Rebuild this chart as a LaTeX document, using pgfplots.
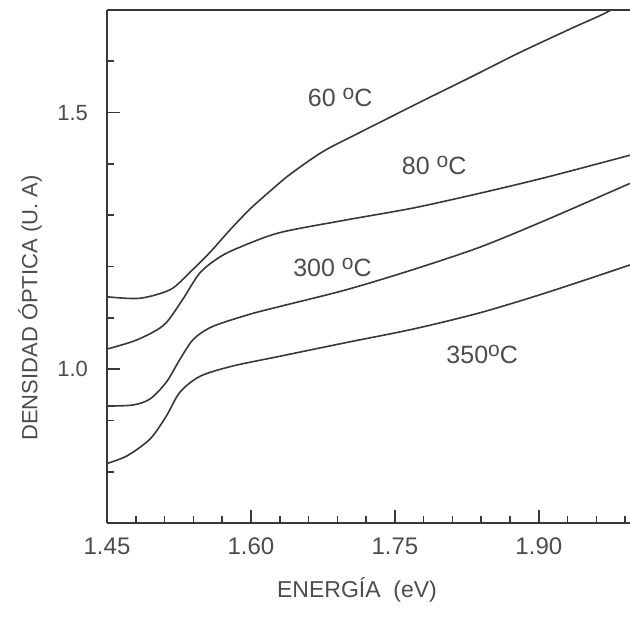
\documentclass[border=0pt]{standalone}
\usepackage{pgfplots}
\pgfplotsset{compat=1.18}
\usepackage{fontspec}
\setmainfont{Liberation Sans}
\definecolor{ink}{gray}{0.22}
\definecolor{txt}{gray}{0.3}
% raised "o" used as the degree sign
\newcommand{\gr}{\raisebox{0.55ex}{\fontsize{10.5}{12}\selectfont o}}

\begin{document}
\begin{tikzpicture}
\begin{axis}[
  scale only axis,
  width=261.5pt, height=256.5pt,
  xmin=1.45, xmax=1.995, ymin=0.70, ymax=1.70,
  axis x line*=bottom, axis y line*=left,
  axis line style={-, line width=1pt, ink},
  xtick={1.45,1.60,1.75,1.90},
  xticklabels={1.45,1.60,1.75,1.90},
  minor xtick={1.48,1.51,1.54,1.57,1.63,1.66,1.69,1.72,1.78,1.81,1.84,1.87,1.93,1.96,1.99},
  ytick={1.0,1.5}, yticklabels={1.0,1.5},
  minor ytick={0.8,0.9,1.1,1.2,1.3,1.4,1.6},
  tick align=inside,
  major tick length=6.5pt, minor tick length=3.5pt,
  tick style={line width=0.8pt, ink},
  xticklabel style={font=\fontsize{12}{14}\selectfont, text=txt, yshift=-4pt},
  yticklabel style={font=\fontsize{11}{13}\selectfont, text=txt, xshift=-6pt},
  xlabel={ENERGÍA\ \ (eV)},
  ylabel={DENSIDAD ÓPTICA (U. A)},
  xlabel style={at={(axis description cs:0.478,-0.131)}, anchor=center,
    font=\fontsize{11.5}{13}\selectfont, text=txt},
  ylabel style={at={(axis description cs:-0.147,0.419)}, anchor=center,
    font=\fontsize{11}{13}\selectfont, text=txt},
  curve/.style={line width=0.8pt, ink, no markers, smooth, tension=0.5},
]
% 60 oC
\addplot[curve] coordinates {
  (1.450,1.141) (1.484,1.138) (1.516,1.155) (1.536,1.188) (1.557,1.227)
  (1.578,1.271) (1.599,1.312) (1.620,1.347) (1.641,1.380) (1.675,1.424)
  (1.710,1.458) (1.745,1.491) (1.779,1.523) (1.830,1.570) (1.880,1.617)
  (1.935,1.665) (1.967,1.692) (1.995,1.720)
};
% 80 oC
\addplot[curve] coordinates {
  (1.450,1.039) (1.477,1.054) (1.498,1.072) (1.512,1.091) (1.529,1.136)
  (1.547,1.188) (1.568,1.219) (1.589,1.238) (1.630,1.266) (1.700,1.291)
  (1.769,1.314) (1.839,1.343) (1.908,1.374) (1.995,1.417)
};
% 300 oC
\addplot[curve] coordinates {
  (1.450,0.928) (1.477,0.930) (1.495,0.942) (1.512,0.975) (1.526,1.019)
  (1.540,1.058) (1.560,1.083) (1.599,1.107) (1.630,1.122) (1.700,1.155)
  (1.769,1.194) (1.839,1.238) (1.908,1.291) (1.995,1.362)
};
% 350 oC
\addplot[curve] coordinates {
  (1.450,0.816) (1.471,0.831) (1.495,0.864) (1.512,0.909) (1.526,0.955)
  (1.547,0.986) (1.581,1.006) (1.630,1.025) (1.700,1.052) (1.769,1.078)
  (1.839,1.110) (1.908,1.149) (1.995,1.203)
};
% top frame line (no right spine)
\draw[line width=1pt, ink] (rel axis cs:0,1) -- (rel axis cs:1,1);
% curve labels
\begin{scope}[every node/.style={font=\fontsize{12.5}{14}\selectfont, text=txt}]
\node at (axis cs:1.693,1.529) {60 \gr C};
\node at (axis cs:1.791,1.397) {80 \gr C};
\node at (axis cs:1.685,1.198) {300 \gr C};
\node at (axis cs:1.841,1.029) {350\gr C};
\end{scope}
\end{axis}
\pgfresetboundingbox
\path (-53.5pt,-48.5pt) rectangle (261.5pt,261.5pt);
\end{tikzpicture}
\end{document}
